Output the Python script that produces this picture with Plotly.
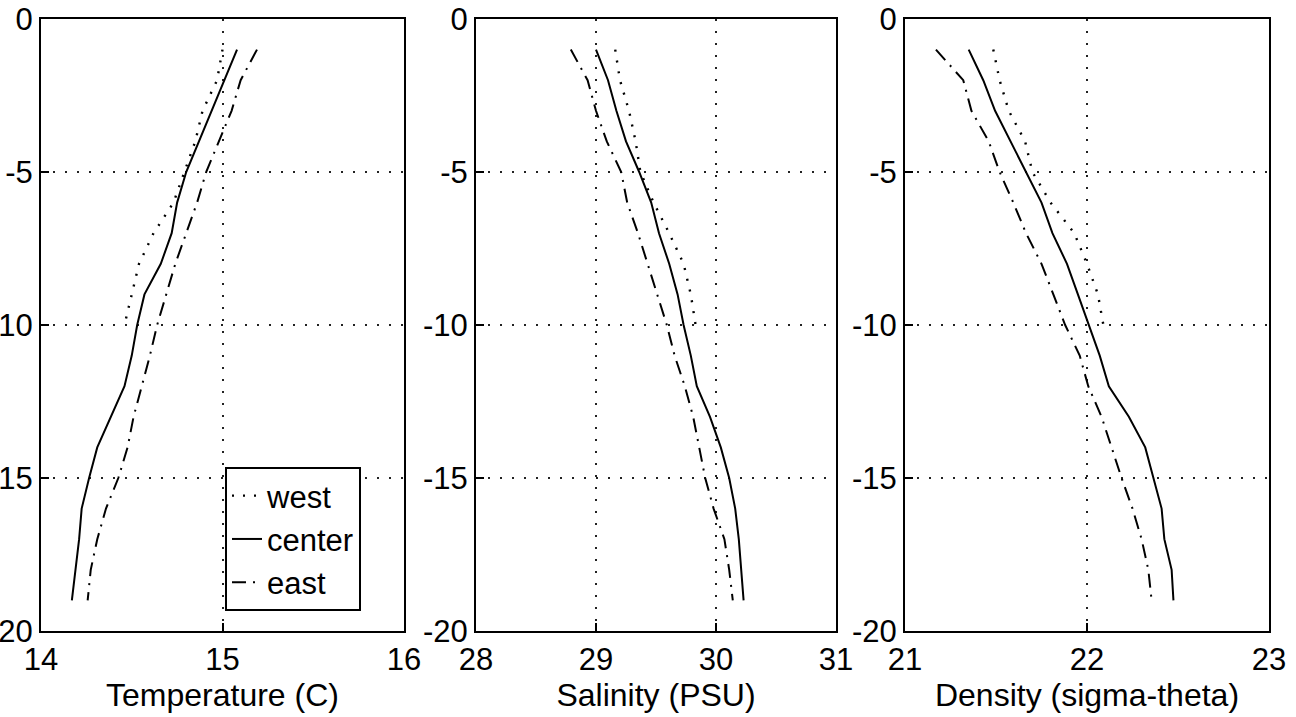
import plotly.graph_objects as go

# ---- data ----
depth_full = [-1, -2, -3, -4, -5, -6, -7, -8, -9, -10, -11, -12, -13, -14, -15, -16, -17, -18, -19]
depth_west = [-1, -2, -3, -4, -5, -6, -7, -8, -9, -10]

temp_west = [15.00, 14.97, 14.89, 14.85, 14.79, 14.73, 14.62, 14.54, 14.50, 14.46]
temp_center = [15.08, 15.01, 14.94, 14.87, 14.80, 14.75, 14.72, 14.66, 14.57, 14.53,
               14.50, 14.46, 14.385, 14.31, 14.265, 14.224, 14.21, 14.19, 14.17]
temp_east = [15.19, 15.10, 15.05, 14.98, 14.91, 14.86, 14.80, 14.74, 14.69, 14.64,
             14.60, 14.555, 14.51, 14.477, 14.426, 14.358, 14.31, 14.274, 14.257]

sal_west = [29.16, 29.20, 29.275, 29.33, 29.37, 29.48, 29.61, 29.73, 29.79, 29.83]
sal_center = [29.00, 29.10, 29.17, 29.25, 29.36, 29.46, 29.525, 29.61, 29.68, 29.73,
              29.79, 29.84, 29.95, 30.04, 30.11, 30.16, 30.19, 30.21, 30.23]
sal_east = [28.79, 28.93, 29.00, 29.09, 29.21, 29.26, 29.35, 29.43, 29.51, 29.59,
            29.655, 29.74, 29.81, 29.86, 29.91, 29.98, 30.07, 30.11, 30.14]

dens_west = [21.485, 21.52, 21.57, 21.66, 21.70, 21.80, 21.93, 22.00, 22.06, 22.09]
dens_center = [21.35, 21.43, 21.495, 21.58, 21.665, 21.75, 21.81, 21.89, 21.95, 22.01,
               22.07, 22.12, 22.23, 22.32, 22.365, 22.41, 22.425, 22.465, 22.475]
dens_east = [21.17, 21.32, 21.365, 21.46, 21.52, 21.595, 21.665, 21.75, 21.815, 21.88,
             21.96, 22.007, 22.08, 22.135, 22.19, 22.25, 22.30, 22.337, 22.355]

y_ticks = [0, -5, -10, -15, -20]
y_ticktext = ["0", "-5", "-10", "-15", "-20"]
x_titles = ["Temperature (C)", "Salinity (PSU)", "Density (sigma-theta)"]
x_ranges = [[14, 16], [28, 31], [21, 23]]
x_ticks = [[14, 15, 16], [28, 29, 30, 31], [21, 22, 23]]
series_names = ["west", "center", "east"]

FONT = "Liberation Sans, Arial, Helvetica, sans-serif"
W, H = 1296, 717
ml, mr, mt, mb = 41, 27, 19, 86
pw = W - ml - mr
ph = H - mt - mb

def dom(a, b):
    return [(a - ml) / pw, (b - ml) / pw]

domains = [dom(41, 404), dom(476, 836), dom(905, 1269)]

styles = {
    "west": dict(color="black", width=2.4, dash="2px,9px"),
    "center": dict(color="black", width=2),
    "east": dict(color="black", width=2, dash="14px,7px,2px,7px"),
}

panels = [
    (temp_west, temp_center, temp_east),
    (sal_west, sal_center, sal_east),
    (dens_west, dens_center, dens_east),
]

fig = go.Figure()
for i, series in enumerate(panels):
    xa = "x" if i == 0 else f"x{i+1}"
    ya = "y" if i == 0 else f"y{i+1}"
    for name, vals in zip(series_names, series):
        depths = depth_west if name == "west" else depth_full
        fig.add_trace(go.Scatter(x=vals, y=depths, mode="lines", name=name,
                                 line=styles[name], xaxis=xa, yaxis=ya,
                                 showlegend=(i == 0), hoverinfo="skip"))

layout = dict(
    width=W, height=H,
    margin=dict(l=ml, r=mr, t=mt, b=mb),
    paper_bgcolor="white", plot_bgcolor="white",
    font=dict(family=FONT, size=31, color="black"),
    legend=dict(
        x=(225 - ml) / pw, y=(H - mb - 467) / ph,
        xanchor="left", yanchor="top",
        bordercolor="black", borderwidth=2, bgcolor="white",
        font=dict(family=FONT, size=31, color="black"),
        itemwidth=30, tracegroupgap=0,
    ),
)

for i in range(3):
    xk = "xaxis" if i == 0 else f"xaxis{i+1}"
    yk = "yaxis" if i == 0 else f"yaxis{i+1}"
    anchor_y = "y" if i == 0 else f"y{i+1}"
    anchor_x = "x" if i == 0 else f"x{i+1}"
    layout[xk] = dict(
        domain=domains[i], anchor=anchor_y, range=x_ranges[i],
        tickvals=x_ticks[i], ticktext=[str(v) for v in x_ticks[i]],
        showline=True, linecolor="black", linewidth=2, mirror=True,
        ticks="inside", ticklen=8, tickwidth=2, tickcolor="black",
        showgrid=True, gridcolor="#222", gridwidth=2, griddash="2px,10px",
        zeroline=False, automargin=False,
        tickfont=dict(family=FONT, size=31, color="black"),
        title=dict(text=x_titles[i], standoff=4,
                   font=dict(family=FONT, size=32, color="black")),
    )
    layout[yk] = dict(
        domain=[0, 1], anchor=anchor_x, range=[-20, 0],
        tickvals=y_ticks, ticktext=y_ticktext,
        showline=True, linecolor="black", linewidth=2, mirror=True,
        ticks="inside", ticklen=8, tickwidth=2, tickcolor="black",
        showgrid=True, gridcolor="#222", gridwidth=2, griddash="2px,10px",
        zeroline=False, automargin=False,
        tickfont=dict(family=FONT, size=31, color="black"),
    )

fig.update_layout(**layout)
fig.write_html("out.html",
               config={"displayModeBar": False},
               post_script="document.body.style.margin='0';document.body.style.overflow='hidden';")
